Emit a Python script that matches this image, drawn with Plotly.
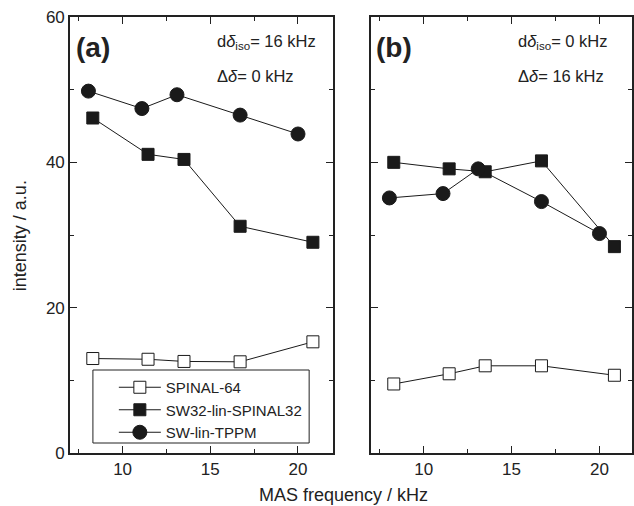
import plotly.graph_objects as go

# Panel (a): d delta_iso = 16 kHz, Delta delta = 0 kHz
x_sq = [8.3, 11.45, 13.5, 16.7, 20.85]
x_ci = [8.05, 11.1, 13.1, 16.7, 20.0]

a_spinal = [13.0, 12.9, 12.6, 12.55, 15.3]
a_sw32 = [46.1, 41.1, 40.4, 31.2, 29.0]
a_swtppm = [49.8, 47.4, 49.3, 46.5, 43.9]

# Panel (b): d delta_iso = 0 kHz, Delta delta = 16 kHz
b_spinal = [9.5, 10.9, 12.0, 12.0, 10.7]
b_sw32 = [40.0, 39.1, 38.7, 40.2, 28.4]
b_swtppm = [35.1, 35.7, 39.1, 34.6, 30.2]

names = ["SPINAL-64", "SW32-lin-SPINAL32", "SW-lin-TPPM"]

W, H = 634, 506
ML, MR, MT, MB = 70, 0, 17, 53
PW = W - ML - MR
PH = H - MT - MB


def px(x):
    return (x - ML) / PW


def py(y):
    return (H - MB - y) / PH


line = dict(color="#1a1a1a", width=1)
fig = go.Figure()

for i, (sp, sw, tp) in enumerate([(a_spinal, a_sw32, a_swtppm), (b_spinal, b_sw32, b_swtppm)]):
    xa = "x" if i == 0 else "x2"
    ya = "y" if i == 0 else "y2"
    show = i == 0
    fig.add_trace(go.Scatter(x=x_sq, y=sp, mode="lines+markers", name=names[0], xaxis=xa, yaxis=ya,
                             line=line, showlegend=show,
                             marker=dict(symbol="square", size=12, color="white",
                                         line=dict(color="#1a1a1a", width=1))))
    fig.add_trace(go.Scatter(x=x_sq, y=sw, mode="lines+markers", name=names[1], xaxis=xa, yaxis=ya,
                             line=line, showlegend=show,
                             marker=dict(symbol="square", size=12, color="#1a1a1a",
                                         line=dict(color="#1a1a1a", width=1))))
    fig.add_trace(go.Scatter(x=x_ci, y=tp, mode="lines+markers", name=names[2], xaxis=xa, yaxis=ya,
                             line=line, showlegend=show,
                             marker=dict(symbol="circle", size=14, color="#1a1a1a",
                                         line=dict(color="#1a1a1a", width=1))))

tickfont = dict(family="Liberation Sans, Arial, sans-serif", size=17, color="#222")
common_x = dict(range=[7, 22], tickvals=[10, 15, 20], ticks="inside", ticklen=7, tickwidth=1.2,
                tickcolor="#222", showline=True, linecolor="#222", linewidth=1.6, mirror="allticks",
                showgrid=False, zeroline=False, tickfont=tickfont,
                minor=dict(ticks="inside", ticklen=4, tickvals=[7.5, 12.5, 17.5], tickcolor="#222", tickwidth=1.2))
common_y = dict(range=[0, 60], tickvals=[0, 20, 40, 60], ticks="inside", ticklen=7, tickwidth=1.2,
                tickcolor="#222", showline=True, linecolor="#222", linewidth=1.6, mirror="allticks",
                showgrid=False, zeroline=False, tickfont=tickfont,
                minor=dict(ticks="inside", ticklen=4, tickvals=[10, 30, 50], tickcolor="#222", tickwidth=1.2))

fig.update_layout(
    width=W, height=H,
    margin=dict(l=ML, r=MR, t=MT, b=MB),
    plot_bgcolor="white", paper_bgcolor="white",
    xaxis=dict(domain=[0, px(334)], anchor="y", **common_x),
    yaxis=dict(domain=[0, 1], anchor="x", **common_y),
    xaxis2=dict(domain=[px(372), 1], anchor="y2", **{**common_x, "range": [7, 21.85]}),
    yaxis2=dict(domain=[0, 1], anchor="x2", showticklabels=False, **common_y),
    legend=dict(x=px(114), y=py(371), xanchor="left", yanchor="top",
                borderwidth=0, bgcolor="rgba(0,0,0,0)",
                font=dict(family="Liberation Sans, Arial, sans-serif", size=15, color="#222"),
                tracegroupgap=0, itemwidth=42),
    showlegend=True,
    shapes=[dict(type="rect", xref="paper", yref="paper", x0=px(93), x1=px(310), y0=py(443), y1=py(370),
                 line=dict(color="#222", width=1), layer="above")],
)

font_txt = dict(family="Liberation Sans, Arial, sans-serif", size=16.5, color="#222")
font_lab = dict(family="Liberation Sans, Arial, sans-serif", size=28, color="#222")
ann = [
    dict(text="<b>(a)</b>", x=px(74), y=py(47), xanchor="left", yanchor="middle", font=font_lab),
    dict(text="<b>(b)</b>", x=px(375), y=py(47), xanchor="left", yanchor="middle", font=font_lab),
    dict(text="d<i>δ</i><sub>iso</sub>= 16 kHz", x=px(216), y=py(42), xanchor="left", yanchor="middle", font=font_txt),
    dict(text="Δ<i>δ</i>= 0 kHz", x=px(216), y=py(76), xanchor="left", yanchor="middle", font=font_txt),
    dict(text="d<i>δ</i><sub>iso</sub>= 0 kHz", x=px(518), y=py(42), xanchor="left", yanchor="middle", font=font_txt),
    dict(text="Δ<i>δ</i>= 16 kHz", x=px(518), y=py(76), xanchor="left", yanchor="middle", font=font_txt),
    dict(text="MAS frequency / kHz", x=px(344), y=py(495), xanchor="center", yanchor="middle",
         font=dict(family="Liberation Sans, Arial, sans-serif", size=18, color="#222")),
    dict(text="intensity / a.u.", x=px(20), y=py(236), xanchor="center", yanchor="middle", textangle=-90,
         font=dict(family="Liberation Sans, Arial, sans-serif", size=18, color="#222")),
]
for a in ann:
    a.update(xref="paper", yref="paper", showarrow=False)
fig.update_layout(annotations=ann)

fig.write_html("out.html")
